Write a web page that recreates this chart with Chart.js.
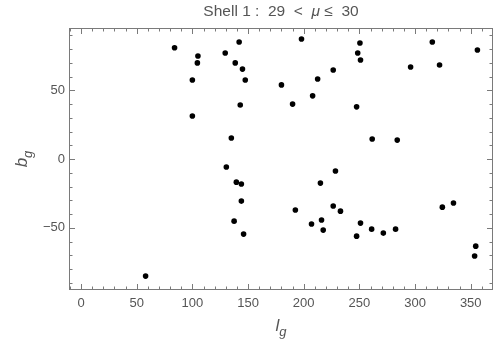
<!DOCTYPE html>
<html>
<head>
<meta charset="utf-8">
<script src="https://cdn.jsdelivr.net/npm/chart.js@4/dist/chart.umd.min.js"></script>
<style>
  html, body { margin: 0; padding: 0; background: #fff; }
  #chart { display: block; }
</style>
</head>
<body>
<canvas id="chart" width="500" height="353"></canvas>
<script>
// galactic longitude / latitude of the stars in this shell
const lgValues = [
  84, 105, 104.5, 100, 100, 129.5, 142, 138.5, 145, 147.5, 143, 135, 130.5,
  198, 180, 190, 208, 212.5, 226.5, 250.5, 248.5, 251, 247.5, 261.5, 284, 296, 315.5, 322, 356,
  139.5, 144, 144, 137.5, 146, 58,
  192.5, 207, 215, 228.5, 216, 217.5, 226.5, 233, 247.5, 251, 261, 271.5, 282.5, 324.5, 334.5, 354.5, 353.5
];
const bgValues = [
  81, 75, 70, 57.5, 31.3, 77.2, 85.2, 70, 65.5, 57.5, 39.3, 15.3, -5.8,
  87.4, 54, 40, 46, 58.3, 64.8, 84.5, 77.2, 72.1, 38, 14.6, 13.8, 67, 85.2, 68.5, 79.4,
  -16.8, -18.2, -30.6, -45.2, -54.6, -85.2,
  -37.1, -47.3, -17.5, -8.7, -44.4, -51.7, -34.2, -37.9, -56.1, -46.6, -51, -53.9, -51, -35, -32, -63.4, -70.6
];
const xTicks = [0, 50, 100, 150, 200, 250, 300, 350];
const yTicks = [-50, 0, 50];

const points = lgValues.map((v, i) => ({ x: v, y: bgValues[i] }));

const FONT = "'Liberation Sans', Arial, sans-serif";
const TEXT = "#555";
const FRAME = "#7a7a7a";

const framePlugin = {
  id: "frame",
  beforeDatasetsDraw(chart) {
    const ctx = chart.ctx;
    const a = chart.chartArea;
    const xs = chart.scales.x;
    const ys = chart.scales.y;
    ctx.save();
    ctx.strokeStyle = FRAME;
    ctx.lineWidth = 1;
    ctx.strokeRect(Math.round(a.left) + 0.5, Math.round(a.top) + 0.5,
      Math.round(a.right - a.left) - 1, Math.round(a.bottom - a.top) - 1);

    ctx.beginPath();
    for (let v = -10; v < xs.max; v += 10) {
      if (v < xs.min) continue;
      const len = v % 50 === 0 ? 6 : 3.5;
      const px = Math.round(xs.getPixelForValue(v)) + 0.5;
      ctx.moveTo(px, a.bottom);
      ctx.lineTo(px, a.bottom - len);
      ctx.moveTo(px, a.top);
      ctx.lineTo(px, a.top + len);
    }
    for (let v = -90; v < ys.max; v += 10) {
      if (v < ys.min) continue;
      const len = v % 50 === 0 ? 6 : 3.5;
      const py = Math.round(ys.getPixelForValue(v)) + 0.5;
      ctx.moveTo(a.left, py);
      ctx.lineTo(a.left + len, py);
      ctx.moveTo(a.right, py);
      ctx.lineTo(a.right - len, py);
    }
    ctx.stroke();
    ctx.restore();
  },
  afterDraw(chart) {
    const ctx = chart.ctx;
    const a = chart.chartArea;
    const cx = (a.left + a.right) / 2;
    ctx.save();
    ctx.fillStyle = TEXT;
    ctx.textBaseline = "alphabetic";

    // title with italic mu
    const parts = [
      ["Shell 1 :  29  <  ", "15.5px " + FONT],
      ["\u03bc", "italic 15.5px " + FONT],
      [" \u2264  30", "15.5px " + FONT],
    ];
    let total = 0;
    parts.forEach((p) => { ctx.font = p[1]; total += ctx.measureText(p[0]).width; });
    let x = cx - total / 2;
    parts.forEach((p) => {
      ctx.font = p[1];
      ctx.textAlign = "left";
      ctx.fillText(p[0], x, 15.5);
      x += ctx.measureText(p[0]).width;
    });

    // x axis label l_g
    ctx.font = "italic 17px " + FONT;
    const lw = ctx.measureText("l").width;
    ctx.font = "italic 13px " + FONT;
    const gw = ctx.measureText("g").width;
    let lx = cx - (lw + gw) / 2;
    ctx.font = "italic 17px " + FONT;
    ctx.fillText("l", lx, 331);
    ctx.font = "italic 13px " + FONT;
    ctx.fillText("g", lx + lw, 336);

    // y axis label b_g
    ctx.translate(27, (a.top + a.bottom) / 2);
    ctx.rotate(-Math.PI / 2);
    ctx.font = "italic 17px " + FONT;
    const bw = ctx.measureText("b").width;
    lx = -(bw + gw) / 2;
    ctx.fillText("b", lx, 0);
    ctx.font = "italic 13px " + FONT;
    ctx.fillText("g", lx + bw, 5);
    ctx.restore();
  },
};

const fmt = (v) => (v < 0 ? "\u2212" + Math.abs(v) : String(v));

new Chart(document.getElementById("chart").getContext("2d"), {
  type: "scatter",
  data: {
    datasets: [
      {
        data: points,
        backgroundColor: "#000",
        borderColor: "#000",
        pointRadius: 2.8,
        pointBorderWidth: 0,
      },
    ],
  },
  options: {
    responsive: false,
    animation: false,
    layout: { padding: { top: 28, right: 7, left: 0, bottom: 0 } },
    plugins: {
      legend: { display: false },
      tooltip: { enabled: false },
    },
    scales: {
      x: {
        type: "linear",
        min: -10.8,
        max: 370,
        grid: { display: false, drawTicks: false },
        border: { display: false },
        ticks: { color: TEXT, font: { family: FONT, size: 13 }, padding: 6, maxRotation: 0, callback: fmt },
        afterBuildTicks: (scale) => { scale.ticks = xTicks.map((v) => ({ value: v })); },
        afterFit: (scale) => { scale.height = 63; },
      },
      y: {
        type: "linear",
        min: -95.3,
        max: 95.4,
        grid: { display: false, drawTicks: false },
        border: { display: false },
        ticks: { color: TEXT, font: { family: FONT, size: 13 }, padding: 4, callback: fmt },
        afterBuildTicks: (scale) => { scale.ticks = yTicks.map((v) => ({ value: v })); },
        afterFit: (scale) => { scale.width = 69; },
      },
    },
  },
  plugins: [framePlugin],
});
</script>
</body>
</html>
